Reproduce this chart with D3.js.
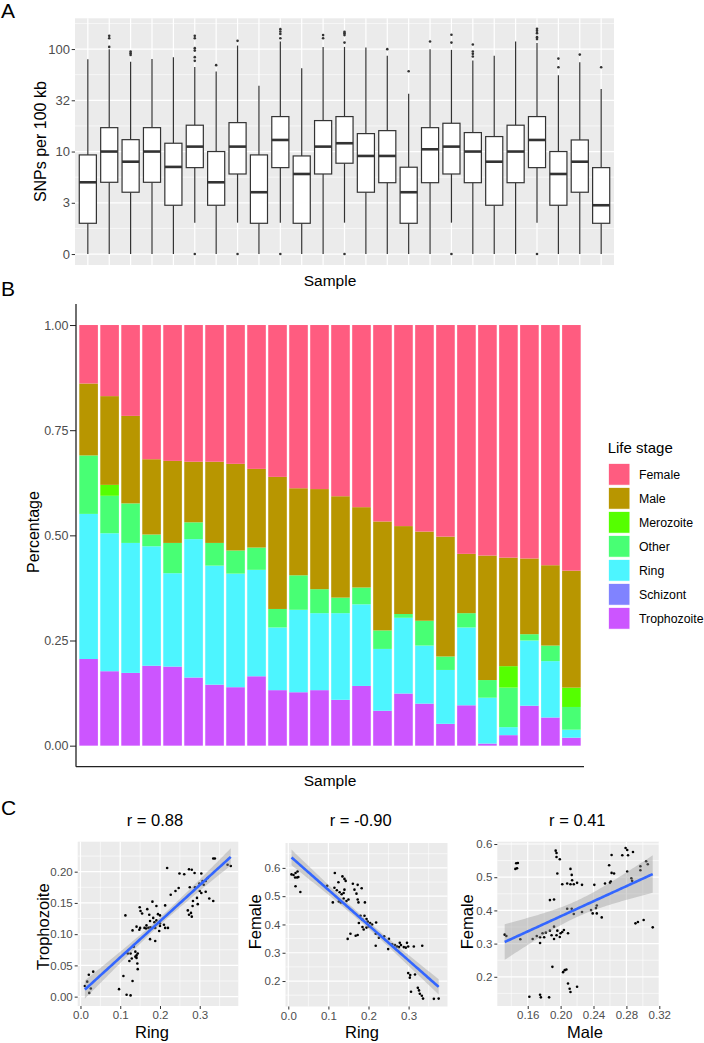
<!DOCTYPE html>
<html><head><meta charset="utf-8">
<script src="https://cdn.jsdelivr.net/npm/d3@7"></script>
<style>
html,body{margin:0;padding:0;background:#fff;}
svg{display:block;font-family:"Liberation Sans",Arial,Helvetica,sans-serif;}
</style></head><body>
<svg id="fig" width="704" height="1043"></svg>
<script>
// ---------------- DATA ----------------
// Panel A: SNP density per sample (position on the transformed axis)
const sampleIdsA = d3.range(1, 26).map(String);
const snpTicks = [0, 0.5, 1, 1.5, 2];
const snpTickLabels = ["0", "3", "10", "32", "100"];
const snpWhiskerHi = [1.901,1.999,1.875,1.904,1.921,1.826,1.780,2.034,1.641,2.073,1.812,2.021,2.021,2.015,1.934,1.563,1.999,1.992,1.888,1.934,2.073,2.060,1.745,1.872,1.611];
const snpQ3 = [0.967,1.233,1.116,1.233,1.081,1.257,1.000,1.282,0.967,1.341,0.957,1.302,1.341,1.175,1.204,0.847,1.233,1.276,1.185,1.146,1.257,1.341,1.000,1.113,0.843];
const snpMedian = [0.700,1.000,0.901,1.000,0.850,1.048,0.700,1.048,0.603,1.113,0.781,1.048,1.081,0.957,0.957,0.603,1.022,1.048,1.000,0.901,1.000,1.113,0.781,0.901,0.476];
const snpQ1 = [0.300,0.700,0.603,0.700,0.476,0.843,0.476,0.781,0.300,0.843,0.300,0.781,0.886,0.603,0.696,0.300,0.696,0.781,0.696,0.476,0.696,0.843,0.476,0.603,0.300];
const snpWhiskerLo = [0,0,0,0,0,0.306,0,0.306,0,0.306,0,0,0.306,0,0,0,0,0.306,0,0,0,0.306,0,0,0];
const snpOutliers = [
  [], [2.129,2.106,2.021], [1.976,1.960,1.943], [], [],
  [2.129,2.106,2.009,1.985,1.921,1.885,0], [1.843], [2.080,0], [], [2.194,2.171,2.148,2.106,0],
  [], [2.136,2.106], [2.168,2.155,2.136,2.063,0], [], [1.999],
  [1.784], [2.073], [2.139,2.063,0], [2.044,1.976,1.953,1.927], [],
  [], [2.197,2.178,2.155,2.116,2.097,0], [1.907,1.823], [1.946], [1.823]
];

// Panel B: life stage proportions per sample
const sampleIdsB = d3.range(1, 25).map(String);
const stages = ["Female","Male","Merozoite","Other","Ring","Schizont","Trophozoite"];
const stageColors = ["#FF5C80","#B89600","#55FF00","#48FF74","#4DF5FF","#8083FF","#CC55FF"];
const propTrophozoite = [0.206,0.177,0.173,0.190,0.188,0.162,0.145,0.139,0.165,0.132,0.127,0.132,0.109,0.142,0.083,0.124,0.100,0.052,0.096,0.005,0.025,0.095,0.067,0.019];
const propSchizont    = [0,0,0,0,0,0,0,0,0,0,0,0,0,0,0,0,0,0,0,0,0,0,0,0];
const propRing        = [0.345,0.328,0.309,0.284,0.222,0.329,0.283,0.270,0.253,0.149,0.196,0.183,0.206,0.194,0.147,0.180,0.138,0.128,0.185,0.109,0.019,0.155,0.134,0.019];
const propOther       = [0.139,0.089,0.094,0.028,0.072,0.040,0.054,0.055,0.053,0.044,0.082,0.057,0.037,0.040,0.044,0.009,0.059,0.032,0.034,0.042,0.094,0.015,0.037,0.054];
const propMerozoite   = [0,0.026,0,0,0,0,0,0,0,0,0,0,0,0,0,0,0,0,0,0,0.051,0,0,0.046];
const propMale        = [0.171,0.211,0.208,0.179,0.195,0.144,0.193,0.206,0.187,0.314,0.207,0.238,0.241,0.191,0.259,0.209,0.212,0.285,0.141,0.296,0.258,0.180,0.191,0.278];
const propFemale      = [0.139,0.169,0.216,0.319,0.323,0.325,0.325,0.330,0.342,0.361,0.388,0.390,0.407,0.433,0.467,0.478,0.491,0.503,0.544,0.548,0.553,0.555,0.571,0.584];
const propTicks = [0, 0.25, 0.5, 0.75, 1];

// Panel C: correlations
const c1Ring  = [0.334,0.338,0.370,0.378,0.218,0.249,0.261,0.273,0.280,0.287,0.304,0.320,0.307,0.315,0.299,0.310,0.275,0.288,0.239,0.247,0.227,0.300,0.304,0.315,0.293,0.283,0.324,0.334,0.295,0.282,0.270,0.278,0.273,0.280,0.181,0.149,0.168,0.191,0.213,0.155,0.113,0.173,0.195,0.200,0.183,0.191,0.175,0.200,0.186,0.166,0.141,0.150,0.161,0.165,0.171,0.176,0.188,0.200,0.210,0.213,0.220,0.198,0.131,0.148,0.175,0.188,0.134,0.126,0.138,0.119,0.141,0.144,0.138,0.129,0.123,0.143,0.144,0.108,0.131,0.097,0.116,0.126,0.032,0.021,0.017,0.011,0.026,0.022,0.141,0.151];
const c1Troph = [0.221,0.221,0.211,0.209,0.206,0.197,0.196,0.204,0.203,0.198,0.197,0.190,0.185,0.185,0.181,0.179,0.175,0.175,0.169,0.174,0.163,0.169,0.166,0.168,0.158,0.153,0.157,0.153,0.148,0.145,0.138,0.134,0.131,0.128,0.152,0.143,0.140,0.145,0.146,0.133,0.130,0.131,0.132,0.130,0.126,0.122,0.121,0.117,0.119,0.114,0.112,0.110,0.110,0.109,0.110,0.111,0.110,0.113,0.115,0.110,0.110,0.105,0.106,0.107,0.092,0.089,0.080,0.069,0.072,0.069,0.066,0.069,0.064,0.061,0.057,0.053,0.044,0.033,0.025,0.012,0.003,0.002,0.040,0.035,0.024,0.017,0.013,0.006,0.062,0.137];
const c2Ring  = [0.008,0.013,0.018,0.023,0.017,0.022,0.025,0.018,0.030,0.116,0.125,0.135,0.140,0.143,0.097,0.115,0.121,0.128,0.133,0.138,0.140,0.138,0.145,0.150,0.111,0.126,0.131,0.161,0.173,0.183,0.165,0.170,0.173,0.175,0.191,0.180,0.190,0.185,0.195,0.176,0.198,0.204,0.209,0.219,0.185,0.195,0.201,0.188,0.155,0.168,0.173,0.148,0.218,0.226,0.239,0.251,0.218,0.249,0.259,0.266,0.271,0.278,0.276,0.281,0.288,0.293,0.296,0.299,0.313,0.334,0.299,0.304,0.316,0.303,0.323,0.326,0.306,0.328,0.333,0.336,0.363,0.375];
const c2Female= [0.577,0.575,0.582,0.587,0.566,0.566,0.568,0.535,0.515,0.582,0.549,0.570,0.561,0.554,0.537,0.530,0.521,0.514,0.507,0.511,0.523,0.492,0.483,0.488,0.478,0.481,0.478,0.544,0.540,0.528,0.523,0.509,0.488,0.478,0.478,0.431,0.431,0.417,0.419,0.405,0.410,0.405,0.400,0.407,0.391,0.389,0.393,0.382,0.367,0.360,0.363,0.349,0.367,0.353,0.358,0.349,0.325,0.313,0.330,0.327,0.322,0.335,0.320,0.327,0.320,0.318,0.335,0.322,0.322,0.325,0.228,0.221,0.223,0.212,0.176,0.167,0.162,0.155,0.148,0.138,0.137,0.138];
const c3Male  = [0.132,0.134,0.151,0.145,0.147,0.146,0.148,0.194,0.195,0.195,0.199,0.196,0.187,0.192,0.212,0.2135,0.214,0.202,0.208,0.212,0.216,0.220,0.226,0.208,0.2135,0.216,0.226,0.237,0.239,0.241,0.243,0.244,0.244,0.250,0.254,0.260,0.261,0.259,0.262,0.262,0.265,0.275,0.279,0.281,0.282,0.288,0.281,0.286,0.287,0.297,0.297,0.304,0.306,0.291,0.294,0.301,0.312,0.166,0.171,0.175,0.175,0.178,0.180,0.182,0.187,0.189,0.192,0.192,0.195,0.196,0.199,0.200,0.202,0.204,0.209,0.190,0.203,0.205,0.207,0.209,0.211,0.212,0.220,0.162,0.175,0.176,0.186];
const c3Female= [0.327,0.323,0.313,0.525,0.527,0.542,0.543,0.580,0.573,0.561,0.554,0.511,0.431,0.433,0.525,0.507,0.491,0.479,0.481,0.479,0.479,0.483,0.477,0.405,0.405,0.389,0.395,0.401,0.391,0.477,0.407,0.415,0.391,0.379,0.481,0.483,0.487,0.536,0.567,0.513,0.511,0.566,0.588,0.582,0.566,0.576,0.517,0.497,0.489,0.533,0.521,0.548,0.539,0.361,0.365,0.371,0.349,0.314,0.323,0.302,0.319,0.331,0.319,0.333,0.339,0.325,0.314,0.351,0.325,0.339,0.320,0.331,0.335,0.341,0.331,0.230,0.214,0.220,0.222,0.180,0.164,0.154,0.170,0.140,0.146,0.138,0.138];
const corrTitles = ["r = 0.88", "r = -0.90", "r = 0.41"];

// ---------------- DRAWING ----------------
const svg = d3.select("#fig");
const BG = "#EBEBEB", TXT = "#4D4D4D", DARK = "#333333";

function styleAxis(g, fs, tickCol) {
  g.select(".domain").remove();
  g.selectAll(".tick line").attr("stroke", tickCol || DARK).attr("stroke-width", 1);
  g.selectAll(".tick text").attr("fill", TXT).attr("font-size", fs)
    .attr("font-family", '"Liberation Sans", Arial, sans-serif');
}
function label(x, y, txt, fs, opts = {}) {
  const t = svg.append("text").attr("x", x).attr("y", y).text(txt)
    .attr("font-size", fs).attr("fill", opts.fill || "#000")
    .attr("text-anchor", opts.anchor || "middle");
  if (opts.rotate) t.attr("transform", `rotate(-90,${x},${y})`).attr("dy", "0.35em");
  return t;
}

// panel letters
label(1, 18, "A", 21, {anchor: "start"});
label(1, 296, "B", 21, {anchor: "start"});
label(1, 815, "C", 21, {anchor: "start"});

// ---------- Panel A ----------
(function () {
  const L = 75, R = 614, T = 18.3, B = 265;
  const x = d3.scalePoint().domain(sampleIdsA).range([L, R]).padding(0.6);
  const y = d3.scaleLinear().domain([-0.107, 2.30]).range([B, T]);
  const g = svg.append("g");
  g.append("rect").attr("x", L).attr("y", T).attr("width", R - L).attr("height", B - T).attr("fill", BG);
  const minor = d3.range(snpTicks.length + 1).map(i => snpTicks[0] - 0.25 + i * 0.5)
    .filter(v => v > y.domain()[0] && v < y.domain()[1]);
  g.selectAll(".mn").data(minor).join("line").attr("x1", L).attr("x2", R)
    .attr("y1", d => y(d)).attr("y2", d => y(d)).attr("stroke", "#fff").attr("stroke-width", 0.6);
  g.selectAll(".mj").data(snpTicks).join("line").attr("x1", L).attr("x2", R)
    .attr("y1", d => y(d)).attr("y2", d => y(d)).attr("stroke", "#fff").attr("stroke-width", 1.2);
  g.selectAll(".vx").data(sampleIdsA).join("line").attr("y1", T).attr("y2", B)
    .attr("x1", d => x(d)).attr("x2", d => x(d)).attr("stroke", "#fff").attr("stroke-width", 1.2);

  const bw = x.step() * 0.8;
  sampleIdsA.forEach((s, i) => {
    const cx = x(s);
    const bg = g.append("g");
    bg.append("line").attr("x1", cx).attr("x2", cx).attr("y1", y(snpWhiskerHi[i])).attr("y2", y(snpQ3[i]))
      .attr("stroke", DARK).attr("stroke-width", 1.2);
    bg.append("line").attr("x1", cx).attr("x2", cx).attr("y1", y(snpQ1[i])).attr("y2", y(snpWhiskerLo[i]))
      .attr("stroke", DARK).attr("stroke-width", 1.2);
    bg.append("rect").attr("x", cx - bw / 2).attr("width", bw)
      .attr("y", y(snpQ3[i])).attr("height", y(snpQ1[i]) - y(snpQ3[i]))
      .attr("fill", "#fff").attr("stroke", DARK).attr("stroke-width", 1.2);
    bg.append("line").attr("x1", cx - bw / 2).attr("x2", cx + bw / 2)
      .attr("y1", y(snpMedian[i])).attr("y2", y(snpMedian[i])).attr("stroke", DARK).attr("stroke-width", 2.6);
    bg.selectAll("circle").data(snpOutliers[i]).join("circle")
      .attr("cx", cx).attr("cy", d => y(d)).attr("r", 1.3).attr("fill", DARK);
  });

  const ax = g.append("g").attr("transform", `translate(${L},0)`)
    .call(d3.axisLeft(y).tickValues(snpTicks).tickFormat((d, i) => snpTickLabels[i]).tickSize(3.3).tickPadding(1.8));
  styleAxis(ax, 13);
  label(40, (T + B) / 2, "SNPs per 100 kb", 16, {rotate: true});
  label(330, 286, "Sample", 15.5);
})();

// ---------- Panel B ----------
(function () {
  const L = 76, R = 584, T = 304, B = 766.7;
  const x = d3.scaleBand().domain(sampleIdsB).range([L, R]).paddingInner(0).paddingOuter(0.1);
  const y = d3.scaleLinear().domain([-0.05, 1.05]).range([B, T]);
  const series = {Female: propFemale, Male: propMale, Merozoite: propMerozoite, Other: propOther,
    Ring: propRing, Schizont: propSchizont, Trophozoite: propTrophozoite};
  const rows = sampleIdsB.map((s, i) => {
    const r = {sample: s};
    stages.forEach(k => r[k] = series[k][i]);
    return r;
  });
  const color = d3.scaleOrdinal().domain(stages).range(stageColors);
  const stacked = d3.stack().keys(stages.slice().reverse())(rows);
  const g = svg.append("g");
  stacked.forEach(layer => {
    g.append("g").attr("fill", color(layer.key)).selectAll("rect")
      .data(layer.filter(d => d[1] - d[0] > 0)).join("rect")
      .attr("x", d => x(d.data.sample) + 1.2).attr("width", x.bandwidth() - 2.4)
      .attr("y", d => y(d[1])).attr("height", d => y(d[0]) - y(d[1]));
  });
  g.append("line").attr("x1", L).attr("x2", L).attr("y1", T).attr("y2", B).attr("stroke", "#222").attr("stroke-width", 1.3);
  g.append("line").attr("x1", L).attr("x2", R).attr("y1", B).attr("y2", B).attr("stroke", "#222").attr("stroke-width", 1.3);
  const ax = g.append("g").attr("transform", `translate(${L},0)`)
    .call(d3.axisLeft(y).tickValues(propTicks).tickFormat(d3.format(".2f")).tickSize(6).tickPadding(1.5));
  styleAxis(ax, 12.5, "#222");
  label(33, 532, "Percentage", 16, {rotate: true});
  label(330, 786, "Sample", 15.5);

  // legend
  label(607.7, 453, "Life stage", 15, {anchor: "start"});
  const lg = g.append("g").selectAll("g").data(stages).join("g")
    .attr("transform", (d, i) => `translate(608.3,${463.3 + i * 24})`);
  lg.append("rect").attr("width", 21.7).attr("height", 22).attr("fill", d => color(d))
    .attr("stroke", "#fff").attr("stroke-width", 1);
  lg.append("text").attr("x", 30.7).attr("y", 11).attr("dy", "0.35em").attr("font-size", 12.3).text(d => d);
})();

// ---------- Panel C ----------
function scatter(o) {
  const x = d3.scaleLinear().domain(o.xDomain).range([o.L, o.R]);
  const y = d3.scaleLinear().domain(o.yDomain).range([o.B, o.T]);
  const g = svg.append("g");
  g.append("rect").attr("x", o.L).attr("y", o.T).attr("width", o.R - o.L).attr("height", o.B - o.T).attr("fill", BG);
  const mids = (t, dom) => {
    const st = t[1] - t[0];
    return d3.range(-1, t.length).map(i => t[0] + st * (i + 0.5)).filter(v => v > dom[0] && v < dom[1]);
  };
  g.selectAll(".mnx").data(mids(o.xTicks, o.xDomain)).join("line").attr("y1", o.T).attr("y2", o.B)
    .attr("x1", d => x(d)).attr("x2", d => x(d)).attr("stroke", "#fff").attr("stroke-width", 0.6);
  g.selectAll(".mny").data(mids(o.yTicks, o.yDomain)).join("line").attr("x1", o.L).attr("x2", o.R)
    .attr("y1", d => y(d)).attr("y2", d => y(d)).attr("stroke", "#fff").attr("stroke-width", 0.6);
  g.selectAll(".mjx").data(o.xTicks).join("line").attr("y1", o.T).attr("y2", o.B)
    .attr("x1", d => x(d)).attr("x2", d => x(d)).attr("stroke", "#fff").attr("stroke-width", 1.2);
  g.selectAll(".mjy").data(o.yTicks).join("line").attr("x1", o.L).attr("x2", o.R)
    .attr("y1", d => y(d)).attr("y2", d => y(d)).attr("stroke", "#fff").attr("stroke-width", 1.2);

  // points
  g.selectAll("circle").data(o.xs.map((v, i) => [v, o.ys[i]])).join("circle")
    .attr("cx", d => x(d[0])).attr("cy", d => y(d[1])).attr("r", 1.3).attr("fill", "#000");

  // linear fit with 95% CI
  const n = o.xs.length, xb = d3.mean(o.xs), yb = d3.mean(o.ys);
  let sxx = 0, sxy = 0;
  o.xs.forEach((v, i) => { sxx += (v - xb) ** 2; sxy += (v - xb) * (o.ys[i] - yb); });
  const b = sxy / sxx, a = yb - b * xb;
  let sse = 0; o.xs.forEach((v, i) => { sse += (o.ys[i] - a - b * v) ** 2; });
  const s = Math.sqrt(sse / (n - 2)), tq = 1.989;
  const [x0, x1] = d3.extent(o.xs);
  const grid = d3.range(81).map(i => x0 + (x1 - x0) * i / 80).map(v => {
    const f = a + b * v, se = s * Math.sqrt(1 / n + (v - xb) ** 2 / sxx);
    return {x: v, f, lo: f - tq * se, hi: f + tq * se};
  });
  g.append("path").datum(grid).attr("fill", "#999999").attr("fill-opacity", 0.4)
    .attr("d", d3.area().x(d => x(d.x)).y0(d => y(d.lo)).y1(d => y(d.hi)));
  g.append("path").datum(grid).attr("fill", "none").attr("stroke", "#3366FF").attr("stroke-width", 2.6)
    .attr("d", d3.line().x(d => x(d.x)).y(d => y(d.f)));

  const axb = g.append("g").attr("transform", `translate(0,${o.B})`)
    .call(d3.axisBottom(x).tickValues(o.xTicks).tickFormat(d3.format(o.xFmt)).tickSize(3).tickPadding(2));
  styleAxis(axb, 11.5);
  const axl = g.append("g").attr("transform", `translate(${o.L},0)`)
    .call(d3.axisLeft(y).tickValues(o.yTicks).tickFormat(d3.format(o.yFmt)).tickSize(3).tickPadding(2));
  styleAxis(axl, 11.5);
  label(o.titleX, 826, o.title, 16.5);
  label(o.xLabX, 1038, o.xLab, 16.5);
  label(o.yLabX, o.yLabY, o.yLab, 16.5, {rotate: true});
}

scatter({L: 77.7, R: 238.3, T: 841.7, B: 1006, xDomain: [-0.007, 0.397], yDomain: [-0.015, 0.248],
  xTicks: [0, 0.1, 0.2, 0.3], yTicks: [0, 0.05, 0.1, 0.15, 0.2], xFmt: ".1f", yFmt: ".2f",
  xs: c1Ring, ys: c1Troph, title: corrTitles[0], titleX: 155, xLab: "Ring", xLabX: 152,
  yLab: "Trophozoite", yLabX: 43, yLabY: 926.7});
scatter({L: 285.5, R: 447.5, T: 843, B: 1006.5, xDomain: [-0.007, 0.397], yDomain: [0.110, 0.688],
  xTicks: [0, 0.1, 0.2, 0.3], yTicks: [0.2, 0.3, 0.4, 0.5, 0.6], xFmt: ".1f", yFmt: ".1f",
  xs: c2Ring, ys: c2Female, title: corrTitles[1], titleX: 360.7, xLab: "Ring", xLabX: 362,
  yLab: "Female", yLabX: 255.3, yLabY: 921.7});
scatter({L: 497.3, R: 659.3, T: 841.7, B: 1006, xDomain: [0.123, 0.320], yDomain: [0.112, 0.607],
  xTicks: [0.16, 0.20, 0.24, 0.28, 0.32], yTicks: [0.2, 0.3, 0.4, 0.5, 0.6], xFmt: ".2f", yFmt: ".1f",
  xs: c3Male, ys: c3Female, title: corrTitles[2], titleX: 577.3, xLab: "Male", xLabX: 585,
  yLab: "Female", yLabX: 467.3, yLabY: 921.7});
</script></body></html>
